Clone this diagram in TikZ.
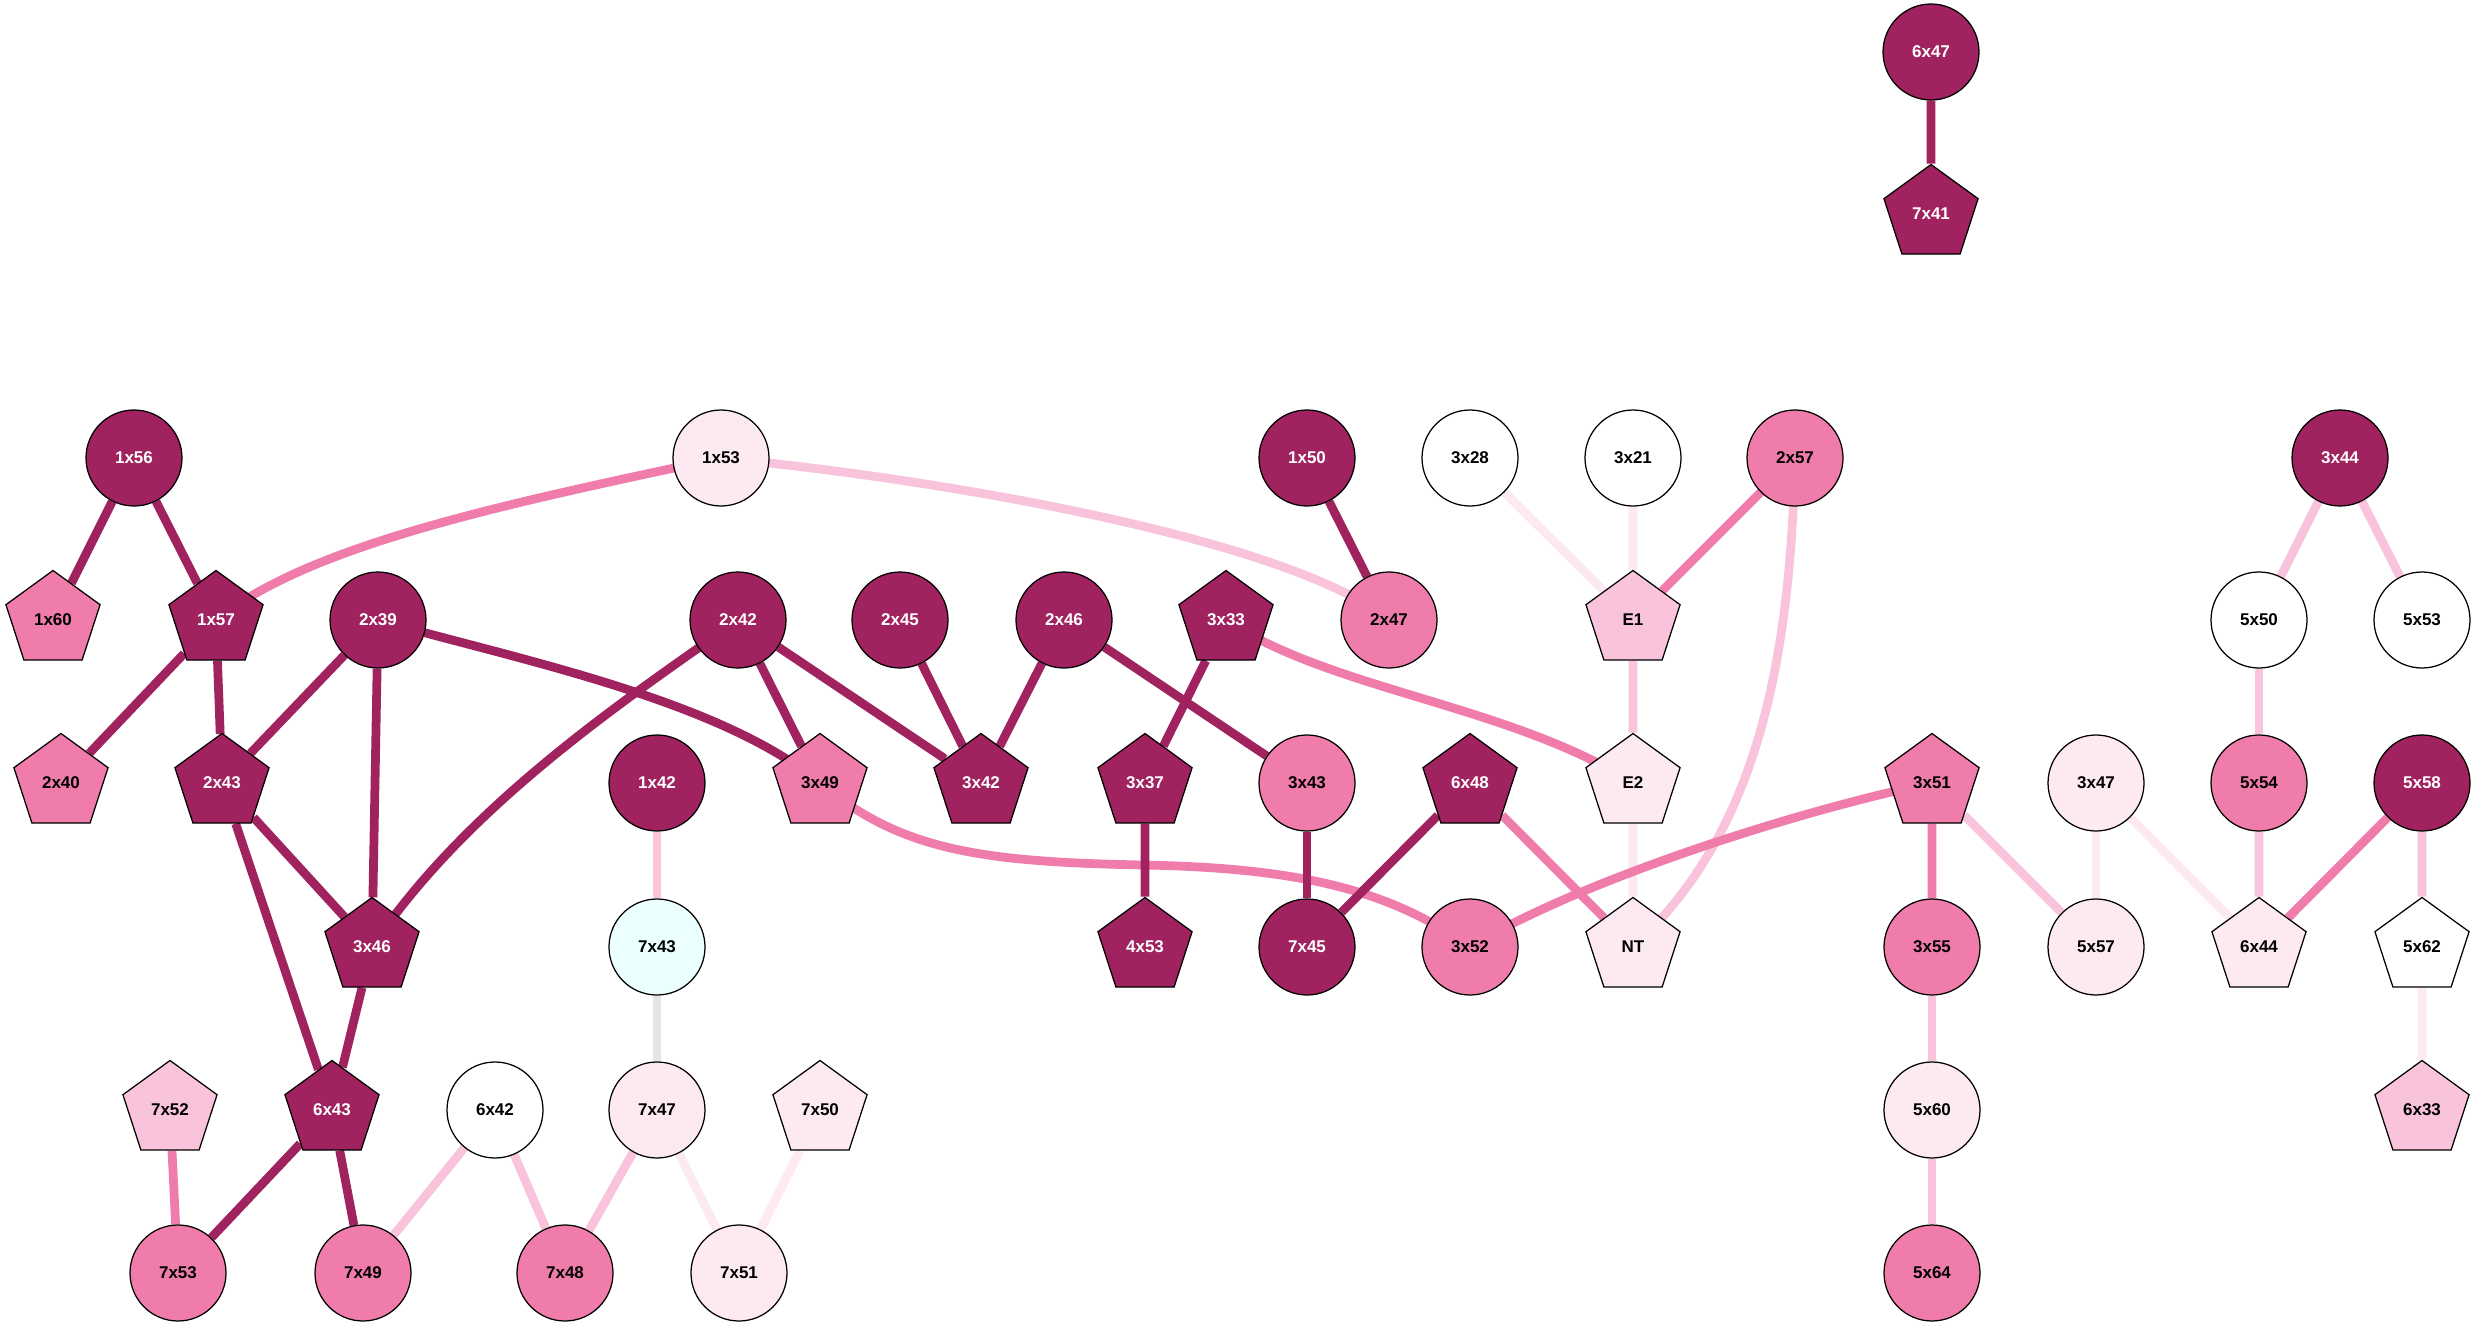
\documentclass[tikz,border=0pt]{standalone}
\usepackage{fontspec}
\setmainfont{Liberation Sans}
\usetikzlibrary{shapes.geometric}
\pgfdeclarelayer{bg}
\pgfsetlayers{bg,main}
\definecolor{cdark}{HTML}{A0225F}
\definecolor{cmed}{HTML}{F07CAB}
\definecolor{clight}{HTML}{F9C4DB}
\definecolor{cvlight}{HTML}{FCE9F1}
\definecolor{ccyan}{HTML}{EBFFFF}
\definecolor{cgrey}{HTML}{E5E5E5}
\begin{document}
\begin{tikzpicture}[x=0.4pt,y=-0.4pt,
  base/.style={draw=black,line width=0.5pt,inner sep=0pt,font=\bfseries\fontsize{6.8}{8}\selectfont},
  circ/.style={base,circle,minimum size=38.4pt},
  pent/.style={base,regular polygon,regular polygon sides=5,minimum size=39.6pt},
  dk/.style={fill=cdark,text=white},
  md/.style={fill=cmed},
  lt/.style={fill=clight},
  vl/.style={fill=cvlight},
  wh/.style={fill=white},
  cy/.style={fill=ccyan},
  lnk/.style={line width=3.5pt},
  edk/.style={lnk,draw=cdark},
  emd/.style={lnk,draw=cmed},
  elt/.style={lnk,draw=clight},
  evl/.style={lnk,draw=cvlight},
  egr/.style={lnk,draw=cgrey}]
\useasboundingbox (0,0) rectangle (2473,1325);
% nodes
\node[circ,dk] (6x47) at (1931,52) {6x47};
\node[pent,dk] (7x41) at (1931,214) {7x41};
\node[circ,dk] (1x56) at (134,458) {1x56};
\node[circ,vl] (1x53) at (721,458) {1x53};
\node[circ,dk] (1x50) at (1307,458) {1x50};
\node[circ,wh] (3x28) at (1470,458) {3x28};
\node[circ,wh] (3x21) at (1633,458) {3x21};
\node[circ,md] (2x57) at (1795,458) {2x57};
\node[circ,dk] (3x44) at (2340,458) {3x44};
\node[pent,md] (1x60) at (53,620) {1x60};
\node[pent,dk] (1x57) at (216,620) {1x57};
\node[circ,dk] (2x39) at (378,620) {2x39};
\node[circ,dk] (2x42) at (738,620) {2x42};
\node[circ,dk] (2x45) at (900,620) {2x45};
\node[circ,dk] (2x46) at (1064,620) {2x46};
\node[pent,dk] (3x33) at (1226,620) {3x33};
\node[circ,md] (2x47) at (1389,620) {2x47};
\node[pent,lt] (E1) at (1633,620) {E1};
\node[circ,wh] (5x50) at (2259,620) {5x50};
\node[circ,wh] (5x53) at (2422,620) {5x53};
\node[pent,md] (2x40) at (61,783) {2x40};
\node[pent,dk] (2x43) at (222,783) {2x43};
\node[circ,dk] (1x42) at (657,783) {1x42};
\node[pent,md] (3x49) at (820,783) {3x49};
\node[pent,dk] (3x42) at (981,783) {3x42};
\node[pent,dk] (3x37) at (1145,783) {3x37};
\node[circ,md] (3x43) at (1307,783) {3x43};
\node[pent,dk] (6x48) at (1470,783) {6x48};
\node[pent,vl] (E2) at (1633,783) {E2};
\node[pent,md] (3x51) at (1932,783) {3x51};
\node[circ,vl] (3x47) at (2096,783) {3x47};
\node[circ,md] (5x54) at (2259,783) {5x54};
\node[circ,dk] (5x58) at (2422,783) {5x58};
\node[pent,dk] (3x46) at (372,947) {3x46};
\node[circ,cy] (7x43) at (657,947) {7x43};
\node[pent,dk] (4x53) at (1145,947) {4x53};
\node[circ,dk] (7x45) at (1307,947) {7x45};
\node[circ,md] (3x52) at (1470,947) {3x52};
\node[pent,vl] (NT) at (1633,947) {NT};
\node[circ,md] (3x55) at (1932,947) {3x55};
\node[circ,vl] (5x57) at (2096,947) {5x57};
\node[pent,vl] (6x44) at (2259,947) {6x44};
\node[pent,wh] (5x62) at (2422,947) {5x62};
\node[pent,lt] (7x52) at (170,1110) {7x52};
\node[pent,dk] (6x43) at (332,1110) {6x43};
\node[circ,wh] (6x42) at (495,1110) {6x42};
\node[circ,vl] (7x47) at (657,1110) {7x47};
\node[pent,vl] (7x50) at (820,1110) {7x50};
\node[circ,vl] (5x60) at (1932,1110) {5x60};
\node[pent,lt] (6x33) at (2422,1110) {6x33};
\node[circ,md] (7x53) at (178,1273) {7x53};
\node[circ,md] (7x49) at (363,1273) {7x49};
\node[circ,md] (7x48) at (565,1273) {7x48};
\node[circ,vl] (7x51) at (739,1273) {7x51};
\node[circ,md] (5x64) at (1932,1273) {5x64};
% edges
\begin{pgfonlayer}{bg}
\fill[white] (0,0) rectangle (2473,1325);
\draw[edk] (6x47) -- (7x41);
\draw[edk] (1x56) -- (1x60);
\draw[edk] (1x56) -- (1x57);
\draw[emd] (1x53.center) .. controls (500,505) and (310,545) .. (1x57.center);
\draw[elt] (1x53.center) .. controls (950,480) and (1290,540) .. (2x47.center);
\draw[edk] (1x50) -- (2x47);
\draw[evl] (3x28) -- (E1);
\draw[evl] (3x21) -- (E1);
\draw[emd] (2x57) -- (E1);
\draw[elt] (2x57.center) .. controls (1790,680) and (1750,840) .. (NT.center);
\draw[elt] (3x44) -- (5x50);
\draw[elt] (3x44) -- (5x53);
\draw[edk] (1x57) -- (2x40);
\draw[edk] (1x57) -- (2x43);
\draw[edk] (2x39) -- (2x43);
\draw[edk] (2x39) -- (3x46);
\draw[edk] (2x39.center) .. controls (520,660) and (720,700) .. (3x49.center);
\draw[edk] (2x42.center) .. controls (640,690) and (470,800) .. (3x46.center);
\draw[edk] (2x42) -- (3x49);
\draw[edk] (2x42) -- (3x42);
\draw[edk] (2x45) -- (3x42);
\draw[edk] (2x46) -- (3x42);
\draw[edk] (2x46) -- (3x43);
\draw[edk] (3x33) -- (3x37);
\draw[emd] (3x33.center) .. controls (1330,690) and (1510,705) .. (E2.center);
\draw[elt] (E1) -- (E2);
\draw[elt] (5x50) -- (5x54);
\draw[edk] (2x43) -- (3x46);
\draw[edk] (2x43) -- (6x43);
\draw[elt] (1x42) -- (7x43);
\draw[emd] (3x49.center) .. controls (900,850) and (980,862) .. (1144,865)
  .. controls (1300,868) and (1390,890) .. (3x52.center);
\draw[edk] (3x37) -- (4x53);
\draw[edk] (3x43) -- (7x45);
\draw[edk] (6x48) -- (7x45);
\draw[emd] (6x48) -- (NT);
\draw[evl] (E2) -- (NT);
\draw[emd] (3x51.center) .. controls (1800,810) and (1580,880) .. (3x52.center);
\draw[emd] (3x51) -- (3x55);
\draw[elt] (3x51) -- (5x57);
\draw[evl] (3x47) -- (5x57);
\draw[evl] (3x47) -- (6x44);
\draw[elt] (5x54) -- (6x44);
\draw[emd] (5x58) -- (6x44);
\draw[elt] (5x58) -- (5x62);
\draw[edk] (3x46) -- (6x43);
\draw[egr] (7x43) -- (7x47);
\draw[elt] (3x55) -- (5x60);
\draw[evl] (5x62) -- (6x33);
\draw[emd] (7x52) -- (7x53);
\draw[edk] (6x43) -- (7x53);
\draw[edk] (6x43) -- (7x49);
\draw[elt] (6x42) -- (7x49);
\draw[elt] (6x42) -- (7x48);
\draw[elt] (7x47) -- (7x48);
\draw[evl] (7x47) -- (7x51);
\draw[evl] (7x50) -- (7x51);
\draw[elt] (5x60) -- (5x64);
\end{pgfonlayer}
\end{tikzpicture}
\end{document}
